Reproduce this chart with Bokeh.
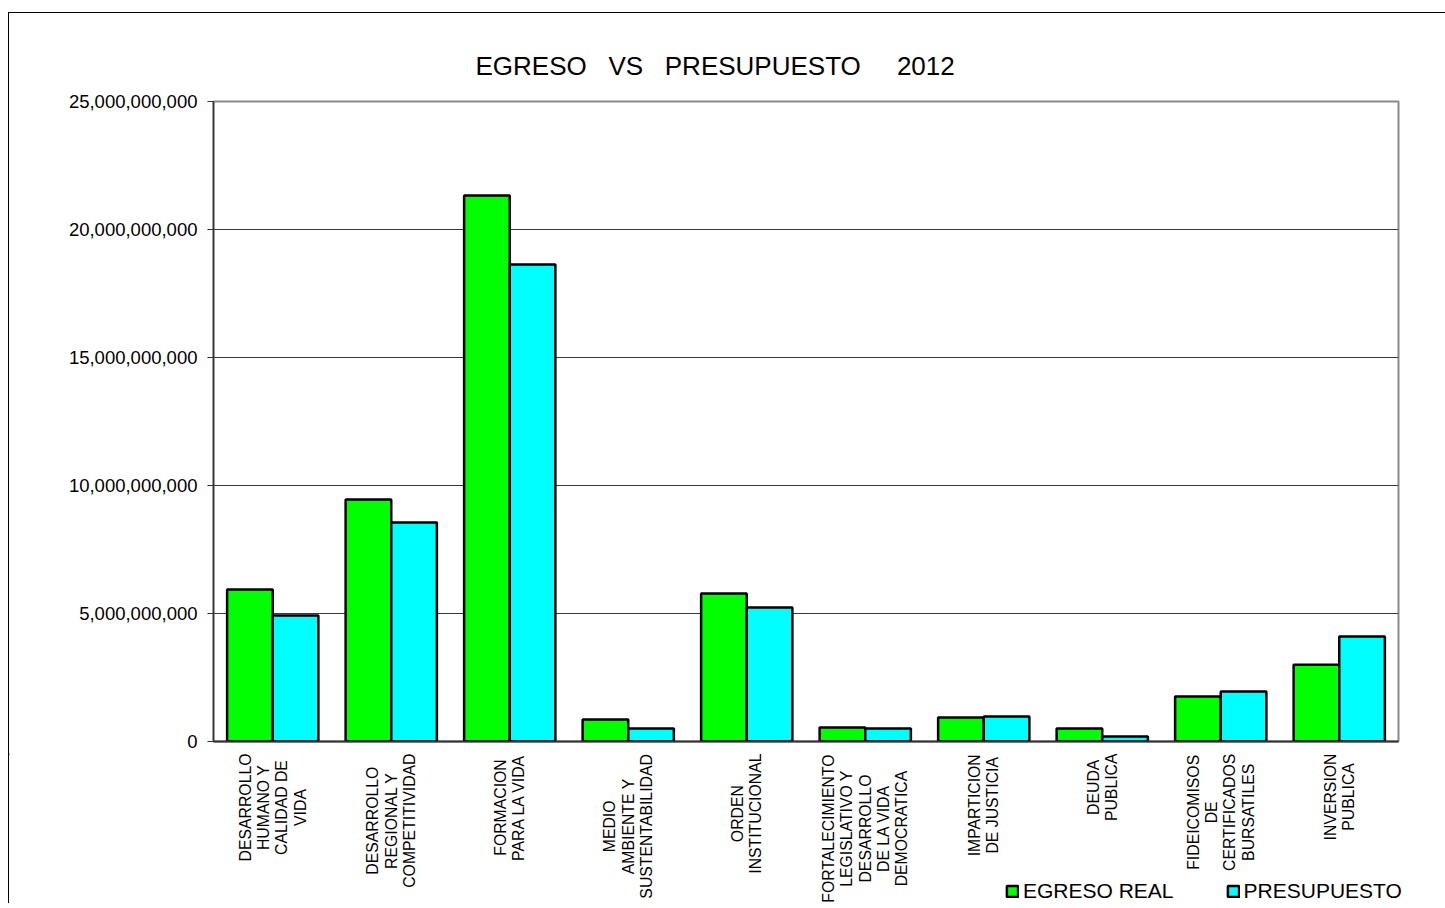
import math
from bokeh.plotting import figure
from bokeh.layouts import column
from bokeh.models import (Range1d, NumeralTickFormatter, FixedTicker,
                          Legend, LegendItem, ColumnDataSource)
from bokeh.core.properties import value
from bokeh.embed import file_html
from bokeh.resources import INLINE

categories = [
    "DESARROLLO\nHUMANO Y\nCALIDAD DE\nVIDA",
    "DESARROLLO\nREGIONAL Y\nCOMPETITIVIDAD",
    "FORMACION\nPARA LA VIDA",
    "MEDIO\nAMBIENTE Y\nSUSTENTABILIDAD",
    "ORDEN\nINSTITUCIONAL",
    "FORTALECIMIENTO\nLEGISLATIVO Y\nDESARROLLO\nDE LA VIDA\nDEMOCRATICA",
    "IMPARTICION\nDE JUSTICIA",
    "DEUDA\nPUBLICA",
    "FIDEICOMISOS\nDE\nCERTIFICADOS\nBURSATILES",
    "INVERSION\nPUBLICA",
]
egreso_real = [5.94e9, 9.45e9, 21.33e9, 0.86e9, 5.78e9, 0.55e9, 0.94e9, 0.51e9, 1.76e9, 3.00e9]
presupuesto = [4.92e9, 8.55e9, 18.63e9, 0.51e9, 5.23e9, 0.51e9, 0.98e9, 0.20e9, 1.95e9, 4.10e9]
y_ticks = [0, 5e9, 10e9, 15e9, 20e9, 25e9]
title_text = "EGRESO   VS   PRESUPUESTO     2012"
series_names = ["EGRESO REAL", "PRESUPUESTO"]
colors = ["#00ff00", "#00ffff"]

FONT = "Liberation Sans"
n = len(categories)
YMAX = 25e9
W_TOTAL = 1437
BL, BR = 204, 48
FRAME_W = W_TOTAL - BL - BR
pxu = n / FRAME_W            # x data units per pixel

# ---------------- main chart ----------------
p = figure(width=W_TOTAL, height=740, output_backend="svg", toolbar_location=None,
           x_range=Range1d(0, n), y_range=Range1d(0, YMAX),
           min_border_left=BL, min_border_top=88, min_border_right=BR,
           min_border_bottom=12)
p.background_fill_color = "white"
p.border_fill_color = "white"
p.outline_line_color = "#8a8a8a"
p.outline_line_width = 2

p.title.text = title_text.replace(" ", "\u00a0")
p.title.align = "left"
p.title.offset = 262
p.title.standoff = 41
p.title.text_font = FONT
p.title.text_font_size = "26px"
p.title.text_font_style = "normal"
p.title.text_color = "black"

bw = 0.385
xs = [i + 0.5 for i in range(n)]
src = ColumnDataSource(dict(
    x1=[x - bw / 2 for x in xs], x2=[x + bw / 2 for x in xs],
    e=egreso_real, pr=presupuesto))
p.vbar(x="x1", top="e", width=bw, source=src, fill_color=colors[0],
       line_color="black", line_width=2.5)
p.vbar(x="x2", top="pr", width=bw, source=src, fill_color=colors[1],
       line_color="black", line_width=2.5)

p.yaxis.ticker = FixedTicker(ticks=y_ticks)
p.yaxis.formatter = NumeralTickFormatter(format="0,0")
p.yaxis.major_label_text_font = FONT
p.yaxis.major_label_text_font_size = "18.5px"
p.yaxis.major_label_text_color = "black"
p.yaxis.major_tick_out = 6
p.yaxis.major_tick_in = 0
p.yaxis.minor_tick_out = 0
p.yaxis.minor_tick_in = 0
p.yaxis.major_label_standoff = 10
p.yaxis.axis_line_color = "#333333"
p.yaxis.major_tick_line_color = "#333333"
p.yaxis.axis_line_width = 1.5

p.xaxis.ticker = FixedTicker(ticks=[])
p.xaxis.minor_tick_out = 0
p.xaxis.major_tick_out = 0
p.xaxis.axis_line_color = "#333333"
p.xaxis.axis_line_width = 2

p.xgrid.grid_line_color = None
p.ygrid.ticker = FixedTicker(ticks=y_ticks)
p.ygrid.grid_line_color = "#3a3a3a"
p.ygrid.grid_line_width = 1

# ---------------- category labels + legend ----------------
LAB_H = 150
q = figure(width=W_TOTAL, height=LAB_H, output_backend="svg", toolbar_location=None,
           x_range=Range1d(-BL * pxu, n + BR * pxu), y_range=Range1d(LAB_H, 0),
           min_border=0, frame_align=False)
q.axis.visible = False
q.grid.grid_line_color = None
q.outline_line_color = None
q.background_fill_color = "white"
q.border_fill_color = "white"

W = dict(A=.667, B=.667, C=.722, D=.722, E=.667, F=.611, G=.778, H=.722, I=.278,
         J=.5, K=.667, L=.556, M=.833, N=.722, O=.778, P=.667, Q=.778, R=.722,
         S=.667, T=.611, U=.722, V=.667, W=.944, X=.667, Y=.667, Z=.611)
W[" "] = .278
LFS = 15.8
LINE_SP = 18.3
lx, ly, lt = [], [], []
for i, cat in enumerate(categories):
    lines = cat.split("\n")
    maxlen = max(sum(W.get(c, .6) for c in ln) * LFS for ln in lines)
    yc = 0 + maxlen / 2
    k = len(lines)
    for j, ln in enumerate(lines):
        lx.append(xs[i] + (j - (k - 1) / 2) * LINE_SP * pxu)
        ly.append(yc)
        lt.append(ln)
q.text(x=lx, y=ly, text=lt, angle=math.pi / 2, text_font=value(FONT),
       text_font_size=f"{LFS}px", text_color="black", text_align="center",
       text_baseline="middle")

# legend swatches (off-range placeholders so the legend can draw its glyphs)
d1 = q.vbar(x=[-100], top=[0], width=1, fill_color=colors[0], line_color="black", line_width=2.5)
d2 = q.vbar(x=[-100], top=[0], width=1, fill_color=colors[1], line_color="black", line_width=2.5)
legend = Legend(items=[LegendItem(label=series_names[0], renderers=[d1]),
                       LegendItem(label=series_names[1], renderers=[d2])],
                orientation="horizontal", location=(996, 0))
legend.glyph_width = 14
legend.glyph_height = 14
legend.label_standoff = 4
legend.spacing = 52
legend.padding = 0
legend.margin = 0
legend.border_line_color = None
legend.background_fill_alpha = 0
legend.label_text_font = FONT
legend.label_text_font_size = "21px"
legend.label_text_color = "black"
q.add_layout(legend)

lay = column(p, q, spacing=0)
lay.styles = {"margin-left": "8px", "margin-top": "12px",
              "border-left": "1px solid #000", "border-top": "1px solid #000"}

open("out.html", "w").write(file_html(lay, INLINE))
